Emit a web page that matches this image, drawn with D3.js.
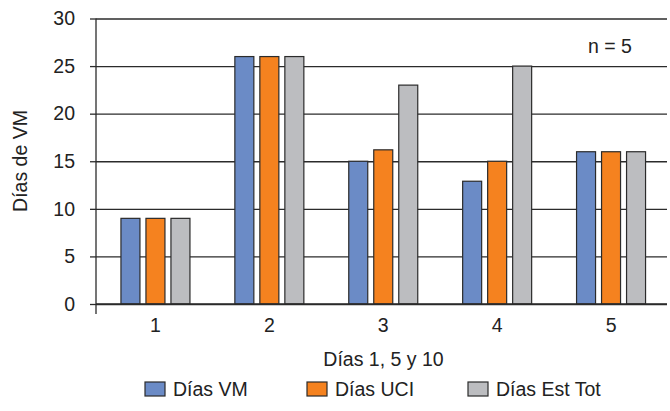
<!DOCTYPE html>
<html>
<head>
<meta charset="utf-8">
<script src="https://cdn.jsdelivr.net/npm/d3@7"></script>
<style>
  html, body { margin: 0; padding: 0; background: #fff; }
  svg { display: block; font-family: "Liberation Sans", Arial, Helvetica, sans-serif; }
</style>
</head>
<body>
<svg id="chart" width="670" height="411"></svg>
<script>
// Days of mechanical ventilation, ICU stay and total stay per patient
const categories = ["1", "2", "3", "4", "5"];
const seriesNames = ["Días VM", "Días UCI", "Días Est Tot"];
const diasVM = [9, 26, 15, 12.9, 16];
const diasUCI = [9, 26, 16.2, 15, 16];
const diasEstTot = [9, 26, 23, 25, 16];
const yTicks = [0, 5, 10, 15, 20, 25, 30];
const colors = ["#6b8bc6", "#f5821f", "#bcbdc0"];

const series = [diasVM, diasUCI, diasEstTot];

const svg = d3.select("#chart");
const fontSize = "19.5px";
const margin = { left: 96, right: 3, top: 18.5, bottom: 107 };
const W = 670, H = 411;
const x0 = margin.left, x1 = W - margin.right;
const yTop = margin.top, yBot = H - margin.bottom;

const x = d3.scaleBand().domain(categories).range([x0 + 2.5, x1 + 1]).paddingInner(0).paddingOuter(0);
const xs = d3.scaleBand().domain(d3.range(series.length)).range([0, 69]).paddingInner(0.24);
const y = d3.scaleLinear().domain([0, 30]).range([yBot, yTop]);

const ink = "#2b2b2b";

// horizontal gridlines with left tick marks
const yAxis = d3.axisLeft(y).tickValues(yTicks).tickSize(6).tickPadding(15);
const gy = svg.append("g").attr("transform", `translate(${x0},0)`).call(yAxis);
gy.select(".domain").remove();
gy.selectAll(".tick line").attr("stroke", ink).attr("stroke-width", 1.3);
gy.selectAll(".tick text").attr("fill", "#222").style("font-size", fontSize);
gy.selectAll(".tick").append("line")
  .attr("x1", 0).attr("x2", x1 - x0)
  .attr("stroke", ink).attr("stroke-width", 1.3);

// bars
const groups = svg.append("g").selectAll("g")
  .data(categories)
  .join("g")
  .attr("transform", d => `translate(${x(d) + (x.bandwidth() - 69) / 2},0)`);

groups.selectAll("rect")
  .data((d, i) => series.map((s, k) => ({ k, v: s[i] })))
  .join("rect")
  .attr("x", d => xs(d.k))
  .attr("width", xs.bandwidth())
  .attr("y", d => y(d.v))
  .attr("height", d => y(0) - y(d.v))
  .attr("fill", d => colors[d.k])
  .attr("stroke", ink)
  .attr("stroke-width", 1.2);

// x axis: baseline redrawn on top, category labels
svg.append("line")
  .attr("x1", x0).attr("x2", x1).attr("y1", y(0)).attr("y2", y(0))
  .attr("stroke", ink).attr("stroke-width", 1.3);
const xAxis = d3.axisBottom(x).tickSize(0).tickPadding(14);
const gx = svg.append("g").attr("transform", `translate(0,${y(0)})`).call(xAxis);
gx.select(".domain").remove();
gx.selectAll(".tick text").attr("fill", "#222").style("font-size", fontSize);

// y axis line, extending slightly below the baseline
svg.append("line")
  .attr("x1", x0).attr("x2", x0).attr("y1", yTop).attr("y2", y(0) + 10)
  .attr("stroke", ink).attr("stroke-width", 1.3);

// axis titles
svg.append("text")
  .attr("x", (x0 + x1) / 2 + 2).attr("y", 366)
  .attr("text-anchor", "middle").attr("fill", "#222")
  .style("font-size", fontSize).text("Días 1, 5 y 10");
svg.append("text")
  .attr("transform", `translate(27,161) rotate(-90)`)
  .attr("text-anchor", "middle").attr("fill", "#222")
  .style("font-size", fontSize).text("Días de VM");

// sample size note
svg.append("text")
  .attr("x", 610).attr("y", 53)
  .attr("text-anchor", "middle").attr("fill", "#222")
  .style("font-size", fontSize).text("n = 5");

// legend
const legendX = [145, 307, 468];
const legend = svg.append("g").selectAll("g")
  .data(seriesNames)
  .join("g")
  .attr("transform", (d, i) => `translate(${legendX[i]},382)`);
legend.append("rect")
  .attr("width", 20).attr("height", 14)
  .attr("fill", (d, i) => colors[i])
  .attr("stroke", ink).attr("stroke-width", 1.2);
legend.append("text")
  .attr("x", 28).attr("y", 13.5)
  .attr("fill", "#222").style("font-size", fontSize)
  .text(d => d);
</script>
</body>
</html>
